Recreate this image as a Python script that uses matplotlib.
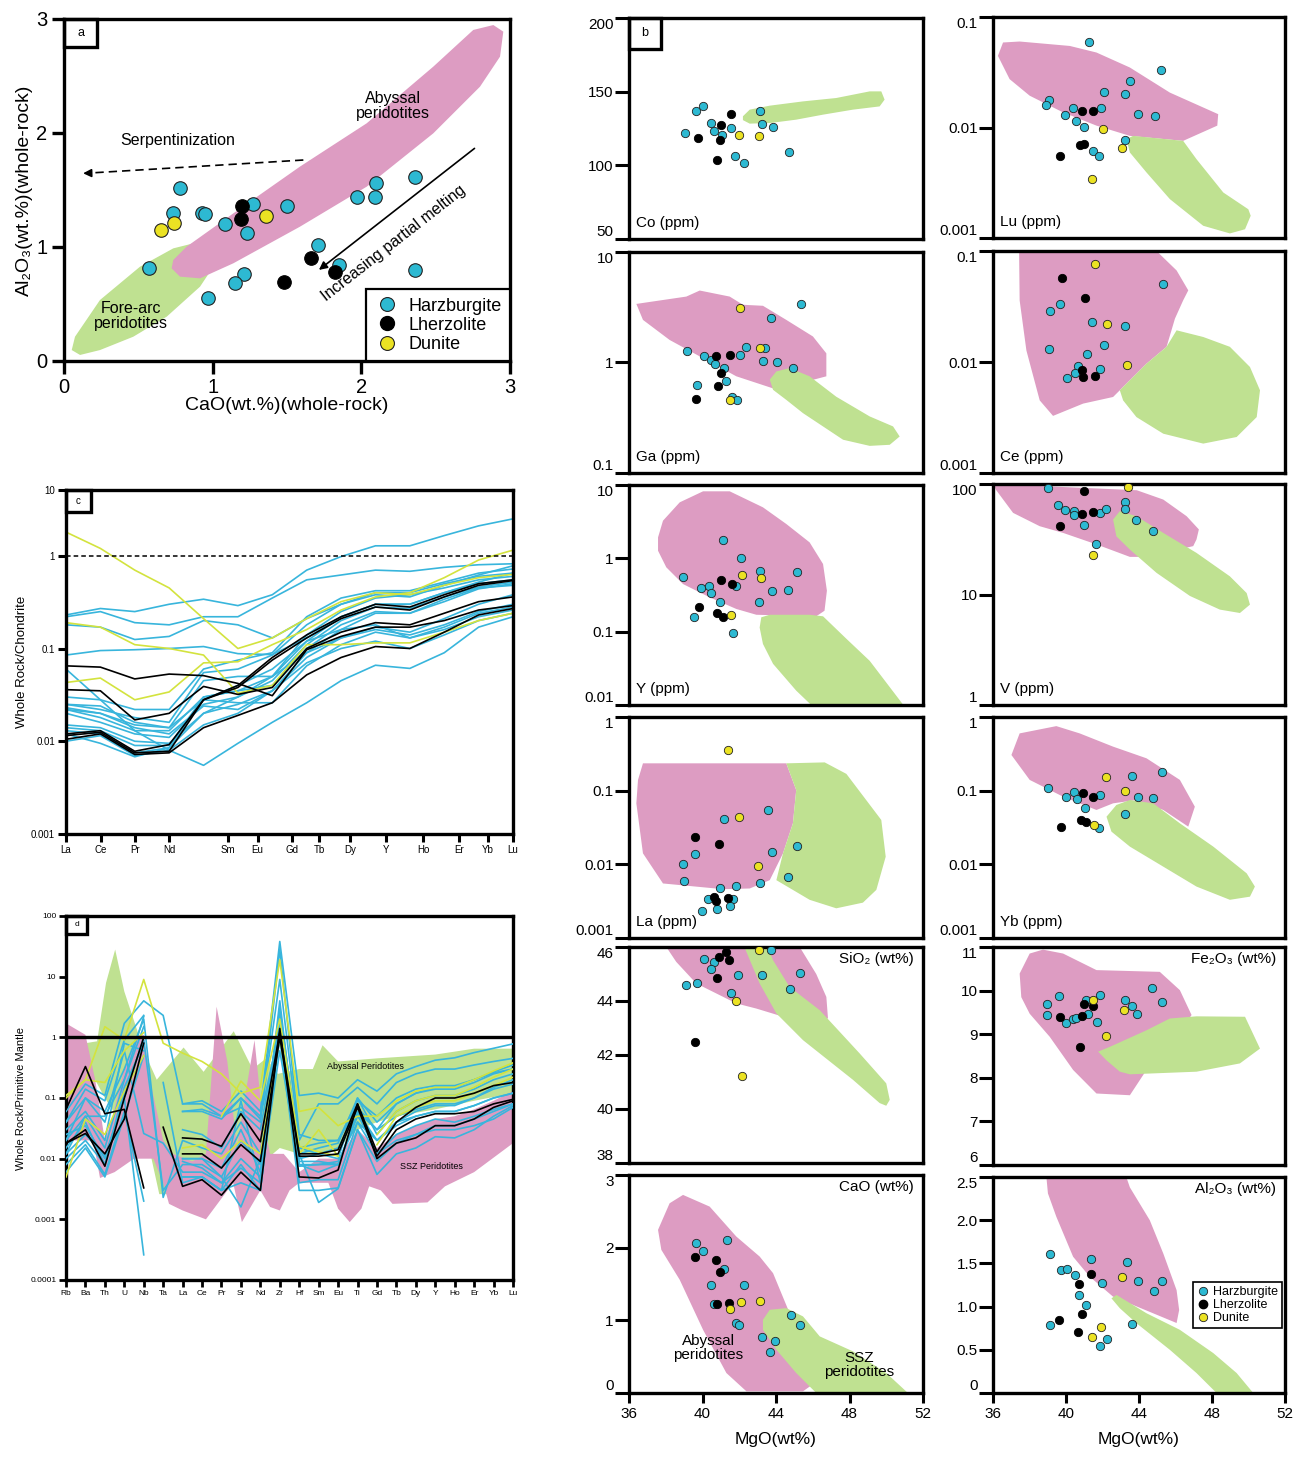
import numpy as np
import matplotlib
matplotlib.use('Agg')
import matplotlib.pyplot as plt
from matplotlib.patches import Polygon, Rectangle
from matplotlib.lines import Line2D
from matplotlib.ticker import NullLocator

plt.rcParams['font.family'] = ['Liberation Sans', 'DejaVu Sans']

W, H = 1296, 1463
PINK = '#dd9cc2'
GREEN = '#bfe191'
CYAN = '#2db9d2'
YEL = '#ebe223'
CYAN_L = '#38b5dc'
YEL_L = '#d3e33e'

# ---------------- (a) CaO vs Al2O3 ----------------
a_harz_cao = [0.78, 0.73, 0.93, 0.95, 1.08, 1.27, 1.23, 1.50, 1.97, 2.10, 2.09, 2.36, 1.71, 1.85, 2.36, 0.57, 1.21, 1.15, 0.97]
a_harz_al = [1.52, 1.30, 1.30, 1.29, 1.20, 1.38, 1.12, 1.36, 1.44, 1.56, 1.44, 1.61, 1.02, 0.84, 0.80, 0.82, 0.76, 0.68, 0.55]
a_lherz_cao = [1.20, 1.19, 1.66, 1.82, 1.48]
a_lherz_al = [1.36, 1.25, 0.90, 0.78, 0.69]
a_dun_cao = [0.65, 0.74, 1.36]
a_dun_al = [1.15, 1.21, 1.27]
a_abyssal = [(0.735, 0.886), (0.825, 1.003), (1.139, 1.295), (1.587, 1.705), (2.036, 2.085), (2.484, 2.582),
             (2.753, 2.904), (2.888, 2.947), (2.955, 2.889), (2.933, 2.670), (2.798, 2.406), (2.484, 1.997),
             (2.036, 1.529), (1.587, 1.178), (1.139, 0.857), (0.915, 0.725), (0.780, 0.740), (0.724, 0.813)]
a_forearc = [(0.052, 0.096), (0.074, 0.213), (0.242, 0.535), (0.511, 0.827), (0.735, 0.988), (0.870, 1.032),
             (1.004, 0.827), (0.915, 0.652), (0.691, 0.389), (0.466, 0.213), (0.242, 0.096), (0.108, 0.053)]

# ---------------- (c) REE / chondrite ----------------
ree_names = ['La', 'Ce', 'Pr', 'Nd', 'Sm', 'Eu', 'Gd', 'Tb', 'Dy', 'Y', 'Ho', 'Er', 'Yb', 'Lu']
ree_tick_pos = [0, 1.01, 2.01, 3.01, 4.71, 5.57, 6.56, 7.37, 8.27, 9.31, 10.39, 11.43, 12.27, 13.0]
ree_harz = [
    [0.23, 0.27, 0.25, 0.30, 0.34, 0.29, 0.38, 0.70, 0.98, 1.28, 1.28, 1.65, 2.1, 2.5],
    [0.22, 0.25, 0.19, 0.18, 0.22, 0.22, 0.35, 0.55, 0.62, 0.70, 0.68, 0.75, 0.80, 0.82],
    [0.18, 0.17, 0.125, 0.135, 0.20, 0.18, 0.13, 0.21, 0.30, 0.38, 0.36, 0.48, 0.62, 0.78],
    [0.085, 0.095, 0.097, 0.10, 0.105, 0.088, 0.086, 0.13, 0.22, 0.30, 0.30, 0.40, 0.52, 0.65],
    [0.06, 0.028, 0.013, 0.008, 0.0055, 0.0095, 0.016, 0.026, 0.045, 0.066, 0.061, 0.09, 0.17, 0.22],
    [0.03, 0.028, 0.022, 0.022, 0.06, 0.075, 0.09, 0.22, 0.35, 0.42, 0.42, 0.52, 0.65, 0.72],
    [0.025, 0.022, 0.018, 0.016, 0.055, 0.06, 0.085, 0.18, 0.30, 0.40, 0.40, 0.50, 0.60, 0.65],
    [0.023, 0.020, 0.015, 0.014, 0.045, 0.05, 0.05, 0.14, 0.25, 0.35, 0.38, 0.45, 0.55, 0.60],
    [0.022, 0.018, 0.013, 0.013, 0.030, 0.035, 0.05, 0.12, 0.22, 0.30, 0.30, 0.40, 0.50, 0.55],
    [0.020, 0.016, 0.012, 0.011, 0.025, 0.030, 0.045, 0.11, 0.20, 0.28, 0.27, 0.36, 0.46, 0.52],
    [0.015, 0.014, 0.010, 0.0095, 0.020, 0.025, 0.035, 0.09, 0.16, 0.24, 0.24, 0.32, 0.44, 0.50],
    [0.014, 0.013, 0.009, 0.009, 0.030, 0.035, 0.04, 0.10, 0.18, 0.25, 0.24, 0.34, 0.45, 0.48],
    [0.010, 0.0115, 0.007, 0.008, 0.015, 0.020, 0.035, 0.08, 0.13, 0.17, 0.15, 0.21, 0.30, 0.38],
    [0.012, 0.0095, 0.0068, 0.0085, 0.020, 0.030, 0.05, 0.09, 0.13, 0.16, 0.14, 0.18, 0.25, 0.30],
    [0.025, 0.024, 0.016, 0.014, 0.028, 0.026, 0.026, 0.065, 0.11, 0.15, 0.13, 0.16, 0.22, 0.26],
    [0.022, 0.020, 0.014, 0.012, 0.024, 0.022, 0.035, 0.07, 0.10, 0.12, 0.10, 0.14, 0.20, 0.24],
    [0.013, 0.012, 0.0075, 0.0085, 0.028, 0.040, 0.06, 0.12, 0.16, 0.18, 0.13, 0.17, 0.24, 0.28],
]
ree_lherz = [
    [0.065, 0.063, 0.047, 0.053, 0.051, 0.042, 0.031, 0.097, 0.135, 0.17, 0.17, 0.20, 0.26, 0.29],
    [0.036, 0.035, 0.017, 0.020, 0.039, 0.032, 0.038, 0.10, 0.15, 0.19, 0.18, 0.24, 0.32, 0.36],
    [0.012, 0.013, 0.0078, 0.0092, 0.028, 0.040, 0.08, 0.14, 0.22, 0.30, 0.28, 0.38, 0.50, 0.55],
    [0.0115, 0.0125, 0.0075, 0.0078, 0.028, 0.038, 0.075, 0.13, 0.21, 0.28, 0.26, 0.36, 0.48, 0.54],
    [0.0105, 0.012, 0.0072, 0.0075, 0.014, 0.019, 0.026, 0.052, 0.08, 0.105, 0.10, 0.15, 0.23, 0.27],
]
ree_dun = [
    [1.8, 1.2, 0.7, 0.45, 0.21, 0.10, 0.13, 0.21, 0.32, 0.40, 0.38, 0.48, 0.58, 0.63],
    [0.19, 0.17, 0.11, 0.10, 0.085, 0.033, 0.04, 0.11, 0.11, 0.115, 0.115, 0.15, 0.20, 0.24],
    [0.043, 0.048, 0.028, 0.034, 0.07, 0.072, 0.11, 0.16, 0.26, 0.36, 0.40, 0.58, 0.90, 1.15],
]

# ---------------- (d) trace elements / primitive mantle ----------------
pm_names = ['Rb', 'Ba', 'Th', 'U', 'Nb', 'Ta', 'La', 'Ce', 'Pr', 'Sr', 'Nd', 'Zr', 'Hf', 'Sm',
            'Eu', 'Ti', 'Gd', 'Tb', 'Dy', 'Y', 'Ho', 'Er', 'Yb', 'Lu']
nan = np.nan
pm_harz = [
    [0.06, 0.17, 0.11, 1.7, 4.0, 2.3, 0.08, 0.09, 0.06, 0.13, 0.06, 38, 0.11, 0.12, 0.10, 0.2, 0.13, 0.25, 0.33, 0.42, 0.46, 0.56, 0.66, 0.78],
    [0.04, 0.14, 0.09, 0.9, 2.3, nan, 0.06, 0.065, 0.05, 0.10, 0.045, 9.0, 0.02, 0.08, 0.08, 0.15, 0.08, 0.18, 0.25, 0.30, 0.30, 0.35, 0.40, 0.45],
    [0.02, 0.10, 0.06, 0.3, 2.0, 0.0023, 0.02, 0.015, 0.012, 0.04, 0.012, 3.0, 0.012, 0.015, 0.018, 0.10, 0.04, 0.08, 0.12, 0.14, 0.14, 0.18, 0.25, 0.30],
    [0.012, 0.025, 0.011, 0.10, 0.00026, nan, 0.005, 0.005, 0.003, 0.004, 0.003, 1.5, 0.008, 0.008, 0.009, 0.04, 0.012, 0.02, 0.025, 0.03, 0.03, 0.035, 0.045, 0.07],
    [0.008, 0.017, 0.0055, 0.06, 0.002, nan, 0.01, 0.01, 0.005, 0.0016, 0.01, 2.7, 0.012, 0.0019, 0.0032, 0.03, 0.0055, 0.012, 0.015, 0.023, 0.022, 0.03, 0.05, 0.075],
    [nan, nan, nan, nan, nan, 0.18, 0.004, 0.005, 0.003, 0.09, 0.004, 2.0, 0.015, 0.012, 0.015, 0.06, 0.02, 0.035, 0.05, 0.06, 0.06, 0.075, 0.10, 0.12],
    [0.03, 0.06, 0.02, 0.8, 0.6, nan, 0.06, 0.06, 0.045, 0.10, 0.05, 1.3, 0.015, 0.018, 0.02, 0.07, 0.03, 0.05, 0.065, 0.08, 0.08, 0.10, 0.14, 0.17],
    [0.02, 0.05, 0.015, 0.2, 1.5, nan, 0.03, 0.025, 0.015, 0.06, 0.03, 1.8, 0.009, 0.009, 0.008, 0.05, 0.02, 0.04, 0.05, 0.06, 0.06, 0.075, 0.10, 0.12],
    [0.015, 0.04, 0.008, 0.12, 0.9, 0.003, 0.008, 0.008, 0.005, 0.02, 0.008, 0.9, 0.01, 0.012, 0.01, 0.10, 0.025, 0.06, 0.09, 0.11, 0.11, 0.14, 0.20, 0.25],
    [0.006, 0.015, 0.005, 0.05, 0.5, nan, 0.009, 0.007, 0.004, 0.01, 0.005, 1.5, 0.004, 0.0045, 0.0045, 0.04, 0.02, 0.04, 0.06, 0.075, 0.075, 0.10, 0.15, 0.20],
    [0.04, 0.10, 0.04, 0.6, 0.026, 0.018, 0.006, 0.006, 0.004, 0.007, 0.004, 0.6, 0.0075, 0.008, 0.008, 0.055, 0.012, 0.025, 0.035, 0.045, 0.04, 0.05, 0.065, 0.08],
    [0.012, 0.05, 0.05, 0.2, 2.2, nan, 0.08, 0.08, 0.05, 0.07, 0.04, 28, 0.025, 0.02, 0.02, 0.09, 0.05, 0.10, 0.14, 0.16, 0.16, 0.20, 0.26, 0.30],
    [0.025, 0.035, 0.01, 0.10, 1.0, nan, 0.01, 0.01, 0.007, 0.03, 0.006, 4.0, 0.008, 0.006, 0.008, 0.06, 0.03, 0.08, 0.12, 0.15, 0.15, 0.20, 0.27, 0.35],
    [0.01, 0.02, 0.008, 0.15, 0.8, nan, 0.005, 0.005, 0.003, 0.008, 0.003, 1.1, 0.003, 0.003, 0.0033, 0.03, 0.009, 0.018, 0.025, 0.035, 0.035, 0.045, 0.06, 0.08],
]
pm_lherz = [
    [0.065, 0.33, 0.055, 0.065, 0.0033, nan, nan, nan, nan, nan, nan, nan, nan, nan, nan, nan, nan, nan, nan, nan, nan, nan, nan, nan],
    [0.018, 0.03, 0.0075, 0.10, 1.0, nan, nan, nan, nan, nan, nan, nan, nan, nan, nan, nan, nan, nan, nan, nan, nan, nan, nan, nan],
    [nan, nan, nan, nan, nan, 0.033, 0.0035, 0.0045, 0.0025, 0.006, 0.003, 1.4, 0.005, 0.0048, 0.0065, 0.08, 0.01, 0.018, 0.022, 0.035, 0.035, 0.045, 0.07, 0.09],
    [nan, nan, nan, nan, nan, nan, 0.022, 0.021, 0.016, 0.055, 0.019, 1.2, 0.012, 0.012, 0.014, 0.08, 0.013, 0.04, 0.07, 0.10, 0.10, 0.12, 0.16, 0.18],
    [0.018, 0.026, 0.012, 0.045, 0.8, nan, 0.012, 0.012, 0.007, 0.017, 0.009, 1.0, 0.011, 0.011, 0.012, 0.07, 0.011, 0.03, 0.045, 0.055, 0.055, 0.06, 0.08, 0.095],
]
pm_dun = [
    [0.10, 0.20, 1.5, 0.9, 9.0, 0.8, 0.55, 0.4, 0.25, 0.12, 0.15, 19, 0.06, 0.07, 0.035, 0.05, 0.05, 0.09, 0.13, 0.15, 0.15, 0.20, 0.28, 0.38],
    [0.005, 0.045, 0.025, 0.13, 0.5, nan, 0.015, 0.017, 0.01, 0.02, 0.012, 1.0, 0.012, 0.03, 0.011, nan, 0.017, 0.05, 0.07, 0.09, 0.09, 0.12, 0.16, 0.22],
    [0.11, 0.20, 0.18, 0.6, 1.2, nan, nan, nan, 0.05, 0.19, 0.09, 2.0, 0.016, 0.013, 0.011, nan, 0.025, 0.06, 0.09, 0.11, 0.11, 0.15, 0.22, 0.30],
]
pm_abyssal = [(1.0, 0.8), (1.6, 0.86), (2.06, 7.9), (2.53, 28), (3.0, 5.7), (3.6, 1.5), (4.0, 0.6), (4.67, 0.2),
              (6.05, 0.68), (7.08, 0.27), (8.63, 1.26), (9.6, 0.3), (10.3, 0.45), (10.9, 0.25), (12.0, 0.3),
              (12.7, 0.3), (13.2, 0.74), (14.0, 0.4), (16.0, 0.45), (19.0, 0.52), (21.0, 0.65), (23.0, 0.65),
              (23.0, 0.12), (21.0, 0.09), (19.0, 0.065), (17.0, 0.05), (16.0, 0.04), (15.0, 0.03), (14.0, 0.015),
              (13.0, 0.012), (12.0, 0.012), (11.0, 0.015), (10.0, 0.008), (9.0, 0.007), (8.0, 0.007), (7.0, 0.008),
              (6.3, 0.007), (5.6, 0.0026), (4.8, 0.0026), (4.4, 0.01), (4.0, 0.05), (3.3, 0.1), (2.6, 0.05),
              (2.0, 0.1), (1.5, 0.2), (1.0, 0.3)]
pm_ssz = [(0, 1.7), (1.0, 1.1), (1.5, 0.2), (2.0, 0.02), (2.4, 0.05), (3.0, 0.3), (3.6, 1.0), (4.0, 1.1),
          (4.4, 0.15), (5.0, 0.02), (5.5, 0.012), (6.5, 0.009), (7.2, 0.012), (7.75, 3.2), (8.3, 0.4),
          (8.8, 0.015), (9.2, 0.1), (9.7, 0.9), (10.1, 0.05), (10.5, 0.012), (11.2, 0.012), (12.0, 0.006),
          (13.0, 0.01), (14.0, 0.01), (15.0, 0.03), (16.0, 0.015), (17.0, 0.025), (18.0, 0.035), (19.0, 0.045),
          (20.0, 0.05), (21.0, 0.065), (22.0, 0.09), (23.0, 0.13),
          (23.0, 0.018), (21.0, 0.006), (19.5, 0.0035), (18.6, 0.0019), (16.8, 0.0018), (16.2, 0.003),
          (15.6, 0.0035), (15.2, 0.0015), (14.6, 0.0009), (14.0, 0.0015), (13.5, 0.004), (12.0, 0.004),
          (11.5, 0.003), (11.0, 0.0014), (10.5, 0.0016), (10.0, 0.003), (9.05, 0.0009), (8.6, 0.004),
          (7.2, 0.001), (6.0, 0.0014), (5.3, 0.0018), (5.0, 0.004), (4.5, 0.01), (3.5, 0.01), (2.5, 0.006),
          (1.75, 0.0048), (1.4, 0.02), (0, 0.02)]

# ---------------- (b) MgO variation diagrams ----------------
co_harz = ([39.03, 39.63, 40.03, 40.48, 40.61, 41.08, 41.57, 43.15, 43.24, 43.84, 44.71, 41.75, 42.26],
           [122.0, 136.7, 140.5, 128.7, 123.1, 120.4, 125.3, 136.7, 128.3, 126.0, 108.8, 106.1, 101.8])
co_lherz = ([39.74, 41.02, 40.93, 41.57, 40.79], [118.6, 127.1, 117.4, 134.8, 103.6])
co_dun = ([41.99, 43.07], [120.8, 120.1])
co_ssz = [(42.2, 133.3), (42.57, 137.8), (43.66, 140.5), (45.47, 143.4), (47.28, 145.7), (49.1, 150.2),
          (49.73, 150.2), (49.91, 144.6), (49.64, 140.0), (48.19, 137.8), (46.56, 134.4), (45.1, 131.0),
          (43.66, 128.7), (42.57, 128.3), (42.2, 130.7)]

ga_harz = ([39.16, 40.06, 40.48, 40.70, 41.15, 41.28, 39.70, 41.61, 41.88, 42.06, 42.39, 43.29, 43.42, 44.05, 44.93, 43.73, 45.38],
           [1.28, 1.15, 1.06, 0.97, 0.90, 0.68, 0.62, 0.49, 0.46, 1.16, 1.37, 1.04, 1.34, 1.01, 0.90, 2.52, 3.39])
ga_lherz = ([39.66, 40.84, 40.99, 40.75, 41.50], [0.47, 0.61, 0.80, 1.15, 1.17])
ga_dun = ([42.06, 43.11, 41.50], [3.10, 1.35, 0.46])
ga_abyssal = [(36.4, 3.39), (39.12, 3.95), (39.85, 4.48), (41.48, 3.95), (42.2, 3.33), (43.29, 3.26), (44.56, 2.43),
              (46.01, 1.72), (46.74, 1.21), (46.74, 0.75), (44.02, 0.57), (41.84, 0.75), (38.21, 1.60), (36.76, 2.43)]
ga_ssz = [(43.66, 0.70), (44.02, 0.83), (44.74, 0.89), (45.83, 0.75), (47.28, 0.49), (49.1, 0.325), (50.37, 0.264),
          (50.73, 0.214), (50.19, 0.180), (49.1, 0.176), (47.65, 0.200), (45.47, 0.348), (44.56, 0.459), (43.84, 0.566)]

y_harz = ([38.94, 39.90, 40.35, 40.48, 40.93, 39.52, 41.66, 41.12, 42.08, 41.81, 43.15, 43.07, 43.76, 44.63, 45.16],
          [0.55, 0.40, 0.42, 0.34, 0.25, 0.16, 0.096, 1.80, 1.01, 0.42, 0.665, 0.25, 0.355, 0.374, 0.644])
y_lherz = ([40.99, 41.61, 39.79, 40.81, 41.12], [0.50, 0.44, 0.22, 0.18, 0.16])
y_dun = ([42.13, 43.20, 41.55], [0.59, 0.54, 0.17])
y_abyssal = [(37.58, 1.93), (37.85, 3.26), (38.76, 5.8), (40.03, 8.2), (41.48, 8.2), (43.29, 4.96), (44.56, 2.94),
             (45.83, 1.65), (46.56, 0.837), (46.77, 0.362), (46.64, 0.193), (46.19, 0.162), (42.93, 0.170),
             (41.84, 0.204), (40.39, 0.294), (38.94, 0.446), (38.03, 0.754), (37.58, 1.27)]
y_ssz = [(43.2, 0.157), (43.66, 0.170), (45.83, 0.170), (46.56, 0.162), (47.83, 0.080), (49.1, 0.040),
         (51.0, 0.0095), (46.01, 0.0095), (45.1, 0.0157), (43.84, 0.0364), (43.29, 0.068), (43.11, 0.114)]

la_harz = ([41.17, 43.56, 45.14, 43.78, 39.57, 38.94, 38.97, 40.97, 41.84, 43.11, 44.65, 40.30, 41.66, 39.97, 40.81, 41.48],
           [0.0412, 0.0541, 0.0179, 0.0146, 0.0137, 0.0100, 0.00594, 0.00482, 0.00508, 0.00552, 0.00683, 0.00339,
            0.00339, 0.00235, 0.00251, 0.00276])
la_lherz = ([39.57, 40.90, 40.61, 40.75, 41.39], [0.0237, 0.0187, 0.00364, 0.00315, 0.00353])
la_dun = ([41.39, 41.97, 43.04], [0.356, 0.0434, 0.00963])
la_abyssal = [(36.76, 0.235), (44.56, 0.235), (45.1, 0.102), (44.92, 0.036), (44.38, 0.0141), (43.66, 0.0061),
              (42.57, 0.0047), (41.12, 0.0046), (37.85, 0.0055), (36.76, 0.0141), (36.4, 0.0673), (36.49, 0.140)]
la_ssz = [(44.56, 0.235), (46.65, 0.242), (47.83, 0.169), (49.73, 0.040), (49.97, 0.0127), (49.46, 0.0045),
          (48.73, 0.00302), (47.28, 0.00253), (45.83, 0.0033), (44.02, 0.0061), (44.38, 0.0141), (44.92, 0.036),
          (45.1, 0.102)]

si_harz = ([40.06, 40.61, 40.48, 39.08, 39.68, 41.93, 41.57, 43.26, 43.71, 44.78, 45.29],
           [45.57, 45.45, 45.20, 44.61, 44.67, 44.98, 44.30, 44.98, 45.88, 44.46, 45.02])
si_lherz = ([41.26, 40.90, 41.42, 40.81, 39.57], [45.82, 45.63, 45.51, 44.86, 42.49])
si_dun = ([43.06, 41.84, 42.17], [45.88, 43.99, 41.24])
si_abyssal = [(38.03, 46.0), (38.57, 45.45), (39.66, 44.65), (41.84, 43.91), (42.93, 43.72), (44.38, 43.42),
              (46.83, 43.35), (46.74, 44.15), (46.19, 45.0), (45.29, 46.0)]
si_ssz = [(42.29, 45.98), (43.56, 45.98), (43.84, 45.51), (44.74, 44.52), (46.38, 43.66), (48.55, 42.06),
          (50.0, 40.95), (50.19, 40.34), (50.0, 40.12), (49.64, 40.22), (48.19, 41.08), (45.47, 42.55),
          (44.02, 43.54), (43.11, 44.65)]

ca_harz = ([39.66, 40.05, 41.33, 41.15, 40.48, 42.26, 40.61, 41.80, 41.99, 43.26, 43.96, 43.69, 44.80, 45.32],
           [2.07, 1.96, 2.10, 1.70, 1.49, 1.49, 1.22, 0.97, 0.94, 0.77, 0.71, 0.56, 1.07, 0.93])
ca_lherz = ([39.61, 40.72, 40.93, 40.81, 41.44], [1.87, 1.83, 1.66, 1.22, 1.24])
ca_dun = ([41.51, 42.08, 43.15], [1.15, 1.25, 1.26])
ca_abyssal = [(37.58, 2.245), (38.21, 2.611), (38.94, 2.726), (40.39, 2.565), (41.84, 2.153), (43.11, 1.878),
              (43.84, 1.649), (44.74, 1.099), (45.47, 0.733), (46.01, 0.366), (46.1, 0.137), (45.47, 0.023),
              (42.39, 0.023), (41.3, 0.275), (40.03, 0.870), (38.76, 1.558), (37.76, 1.970)]
ca_ssz = [(43.29, 1.008), (43.66, 1.145), (44.56, 1.168), (45.47, 1.054), (46.38, 0.779), (48.19, 0.573),
          (50.0, 0.275), (51.18, 0.0), (46.19, 0.0), (45.1, 0.275), (44.02, 0.596), (43.29, 0.870)]

lu_harz = ([41.28, 45.20, 43.53, 42.07, 43.26, 39.07, 38.89, 40.39, 41.91, 39.93, 43.92, 44.85, 40.53, 41.01, 43.26, 41.49, 41.80],
           [0.0596, 0.0330, 0.0264, 0.0210, 0.0200, 0.0177, 0.0160, 0.0149, 0.0149, 0.0130, 0.0133, 0.0128,
            0.0115, 0.0102, 0.00768, 0.00610, 0.00554])
lu_lherz = ([40.88, 41.49, 40.75, 41.01, 39.69], [0.0140, 0.0140, 0.00692, 0.00702, 0.00554])
lu_dun = ([42.03, 43.09, 41.41], [0.00966, 0.00650, 0.00340])
lu_abyssal = [(36.27, 0.0445), (36.55, 0.0588), (37.46, 0.060), (40.21, 0.0547), (41.67, 0.0477), (43.5, 0.0349),
              (45.69, 0.0207), (48.34, 0.0132), (48.29, 0.0104), (46.42, 0.00757), (43.5, 0.00840),
              (41.67, 0.0104), (39.84, 0.0137), (38.01, 0.0194), (36.91, 0.0274)]
lu_ssz = [(43.31, 0.00784), (43.68, 0.0084), (46.42, 0.00757), (47.15, 0.00517), (48.62, 0.00258), (49.99, 0.00182),
          (50.12, 0.00159), (49.81, 0.00120), (48.98, 0.00110), (47.52, 0.00129), (45.69, 0.00225),
          (44.41, 0.00392), (43.5, 0.00594)]

ce_harz = ([45.34, 39.69, 39.14, 41.45, 43.24, 42.07, 39.07, 41.16, 40.66, 41.89, 40.50, 40.04],
           [0.0508, 0.0331, 0.0288, 0.0228, 0.0211, 0.0142, 0.0131, 0.0117, 0.00927, 0.00865, 0.00796, 0.00718])
ce_lherz = ([39.76, 41.06, 40.86, 40.95, 41.58], [0.0571, 0.0377, 0.00841, 0.00732, 0.00748])
ce_dun = ([41.61, 42.25, 43.33], [0.0769, 0.0221, 0.00940])
ce_abyssal = [(37.43, 0.1), (44.96, 0.1), (46.06, 0.0668), (46.70, 0.0442), (46.42, 0.0359), (45.97, 0.0246),
              (45.51, 0.0137), (44.41, 0.00966), (42.58, 0.00484), (40.94, 0.00422), (39.29, 0.00327),
              (38.56, 0.00451), (37.83, 0.0127), (37.46, 0.0359)]
ce_ssz = [(42.95, 0.00556), (44.41, 0.00966), (45.51, 0.0137), (46.06, 0.0193), (47.52, 0.0168), (48.98, 0.0137),
          (50.08, 0.00902), (50.63, 0.00556), (50.45, 0.00319), (49.35, 0.00211), (47.52, 0.00184),
          (45.33, 0.00226), (43.86, 0.00319), (43.13, 0.00451)]

v_harz = ([39.02, 39.57, 39.97, 40.45, 40.43, 40.98, 41.89, 42.17, 43.23, 43.23, 43.86, 44.74, 41.67],
          [92.3, 64.3, 57.9, 57.1, 52.8, 42.7, 54.9, 59.6, 68.9, 59.6, 47.7, 37.4, 28.7])
v_lherz = ([41.0, 40.86, 41.46, 39.66], [85.6, 53.6, 55.6, 42.1])
v_dun = ([43.39, 41.46], [94.4, 23.0])
v_abyssal = [(36.04, 100), (43.88, 87.8), (45.33, 72.3), (46.61, 51.1), (47.28, 38.8), (47.15, 31.5),
             (46.97, 27.4), (44.41, 21.9), (43.5, 21.9), (41.67, 28.4), (39.84, 36.1), (38.56, 41.5),
             (37.10, 54.8), (36.15, 89.1)]
v_ssz = [(42.58, 47.7), (42.95, 56.8), (43.86, 51.1), (45.33, 36.1), (47.15, 23.8), (48.98, 14.6), (49.9, 10.3),
         (50.08, 8.1), (49.53, 6.8), (48.43, 7.3), (46.79, 9.7), (44.96, 15.7), (43.5, 25.5), (42.76, 33.6)]

yb_harz = ([45.27, 43.61, 39.02, 40.42, 39.99, 40.62, 41.88, 43.92, 44.78, 41.03, 43.22, 41.81],
           [0.181, 0.158, 0.110, 0.0959, 0.0812, 0.0779, 0.0873, 0.0812, 0.0795, 0.0588, 0.0482, 0.0308])
yb_lherz = ([40.93, 41.50, 40.80, 41.07, 39.75], [0.092, 0.0812, 0.0400, 0.0380, 0.0325])
yb_dun = ([42.17, 43.26, 41.56], [0.152, 0.0990, 0.0338])
yb_abyssal = [(37.01, 0.305), (37.46, 0.599), (39.47, 0.752), (40.75, 0.599), (42.58, 0.396), (44.41, 0.275),
              (46.24, 0.140), (47.06, 0.0606), (46.70, 0.0325), (45.33, 0.0547), (43.86, 0.0747), (42.58, 0.0673),
              (41.67, 0.0547), (39.84, 0.0829), (38.01, 0.140)]
yb_ssz = [(42.22, 0.0443), (42.76, 0.0639), (43.5, 0.0747), (44.78, 0.0673), (46.24, 0.0360), (48.07, 0.0174),
          (49.9, 0.00755), (50.35, 0.00499), (50.08, 0.00364), (48.98, 0.00330), (47.15, 0.00499),
          (45.33, 0.00930), (43.5, 0.0174), (42.49, 0.0278)]

fe_harz = ([38.94, 39.60, 38.94, 40.02, 40.39, 40.53, 41.08, 41.22, 41.72, 41.89, 43.24, 43.63, 43.90, 44.72, 45.27],
           [9.69, 9.87, 9.44, 9.26, 9.34, 9.37, 9.78, 9.46, 9.28, 9.89, 9.79, 9.65, 9.46, 10.07, 9.74])
fe_lherz = ([39.66, 40.86, 40.96, 41.49, 40.75], [9.40, 9.42, 9.70, 9.64, 8.70])
fe_dun = ([41.50, 43.19, 42.20], [9.78, 9.55, 8.95])
fe_abyssal = [(38.01, 10.85), (38.74, 10.94), (39.84, 10.85), (41.67, 10.47), (45.14, 10.43), (46.24, 10.01),
              (46.88, 9.44), (46.42, 9.17), (45.33, 8.86), (44.41, 8.18), (43.5, 7.60), (41.67, 7.64),
              (40.39, 8.18), (39.11, 8.94), (38.01, 9.47), (37.55, 9.85), (37.46, 10.39)]
fe_ssz = [(41.76, 8.60), (42.4, 8.71), (44.41, 9.09), (45.69, 9.36), (47.15, 9.41), (49.81, 9.40), (50.63, 8.67),
          (49.53, 8.33), (47.15, 8.14), (43.5, 8.08), (42.95, 8.14), (42.22, 8.40)]

al_harz = ([39.11, 39.75, 40.06, 40.52, 40.70, 41.10, 39.11, 41.36, 41.97, 43.33, 43.92, 44.81, 45.27, 43.64, 42.22, 41.85],
           [1.61, 1.42, 1.44, 1.36, 1.13, 1.02, 0.79, 1.55, 1.27, 1.52, 1.30, 1.18, 1.30, 0.80, 0.62, 0.54])
al_lherz = ([40.72, 41.36, 40.86, 39.60, 40.64], [1.26, 1.38, 0.91, 0.84, 0.71])
al_dun = ([43.06, 41.91, 41.45], [1.34, 0.76, 0.65])
al_abyssal = [(38.93, 2.49), (43.32, 2.49), (43.5, 2.38), (44.59, 2.0), (45.33, 1.615), (46.06, 1.19), (46.2, 0.96),
              (46.06, 0.81), (42.58, 1.115), (41.30, 1.346), (40.39, 1.577), (39.47, 2.04), (39.01, 2.31)]
al_ssz = [(42.49, 1.096), (42.77, 1.135), (44.41, 0.923), (46.24, 0.731), (48.07, 0.462), (49.35, 0.231),
          (50.26, 0.0), (48.25, 0.0), (47.15, 0.231), (45.69, 0.5), (43.86, 0.808), (42.95, 0.981)]


def box(l, t, r, b):
    return [l / W, 1 - b / H, (r - l) / W, (b - t) / H]


def heavy_frame(ax, lw=2.4):
    for s in ax.spines.values():
        s.set_linewidth(lw)


def tag(ax, letter, w, h, fs):
    ax.add_patch(Rectangle((0, 1 - h), w, h, transform=ax.transAxes, fill=False, lw=2.4,
                           edgecolor='k', zorder=10, clip_on=False))
    ax.text(w / 2, 1 - h / 2, letter, transform=ax.transAxes, ha='center', va='center', fontsize=fs, zorder=10)


def log_ticks(ax, ticks, labels):
    ax.set_yticks(ticks)
    ax.set_yticklabels(labels)
    ax.yaxis.set_minor_locator(NullLocator())


fig = plt.figure(figsize=(W / 100, H / 100), dpi=100)

# ---------- panel a ----------
ax = fig.add_axes(box(64, 19, 510, 361))
ax.add_patch(Polygon(a_forearc, closed=True, facecolor=GREEN, edgecolor='none', zorder=1))
ax.add_patch(Polygon(a_abyssal, closed=True, facecolor=PINK, edgecolor='none', zorder=2))
ax.scatter(a_harz_cao, a_harz_al, s=95, c=CYAN, edgecolors='#222222', linewidths=0.8, zorder=4)
ax.scatter(a_lherz_cao, a_lherz_al, s=95, c='k', edgecolors='k', linewidths=0.8, zorder=4)
ax.scatter(a_dun_cao, a_dun_al, s=95, c=YEL, edgecolors='#222222', linewidths=0.8, zorder=4)
ax.plot([1.61, 0.16], [1.763, 1.648], ls=(0, (5, 3)), color='k', lw=1.2, zorder=3)
ax.annotate('', xy=(0.11, 1.646), xytext=(0.2, 1.649),
            arrowprops=dict(arrowstyle='-|>', color='k', lw=1.2, mutation_scale=12), zorder=3)
ax.annotate('', xy=(1.70, 0.784), xytext=(2.776, 1.880),
            arrowprops=dict(arrowstyle='-|>', color='k', lw=1.2, mutation_scale=12), zorder=3)
ax.text(0.765, 1.933, 'Serpentinization', ha='center', va='center', fontsize=11.5)
ax.text(2.215, 2.237, 'Abyssal\nperidotites', ha='center', va='center', fontsize=11.5, linespacing=1.0)
ax.text(0.448, 0.395, 'Fore-arc\nperidotites', ha='center', va='center', fontsize=11.5, linespacing=1.0)
ax.text(2.215, 1.032, 'Increasing partial melting', ha='center', va='center', fontsize=11.5,
        rotation=38, rotation_mode='anchor')
ax.set_xlim(0, 3)
ax.set_ylim(0, 3)
ax.set_xticks([0, 1, 2, 3])
ax.set_yticks([0, 1, 2, 3])
ax.tick_params(direction='out', length=9, width=2.4, labelsize=14.5, pad=3)
ax.set_xlabel('CaO(wt.%)(whole-rock)', fontsize=14, labelpad=0)
ax.set_ylabel('Al₂O₃(wt.%)(whole-rock)', fontsize=14, labelpad=2)
heavy_frame(ax)
tag(ax, 'a', 0.074, 0.082, 9)
handles = [Line2D([], [], ls='none', marker='o', ms=10, mfc=CYAN, mec='#222222', mew=0.8),
           Line2D([], [], ls='none', marker='o', ms=10, mfc='k', mec='k'),
           Line2D([], [], ls='none', marker='o', ms=10, mfc=YEL, mec='#222222', mew=0.8)]
leg = ax.legend(handles, ['Harzburgite', 'Lherzolite', 'Dunite'], loc='lower right', bbox_to_anchor=(1, 0),
                borderaxespad=0, fontsize=13, fancybox=False, framealpha=1, edgecolor='k',
                handletextpad=0.5, labelspacing=0.12, borderpad=0.45, handlelength=1.4)
leg.get_frame().set_linewidth(1.6)

# ---------- panel c ----------
ax = fig.add_axes(box(66, 490, 513, 834))
C_TOP = 10 ** 0.709
x_ree = np.arange(len(ree_names))
for row in ree_harz:
    ax.plot(x_ree, row, color=CYAN_L, lw=1.2)
for row in ree_dun:
    ax.plot(x_ree, row, color=YEL_L, lw=1.2)
for row in ree_lherz:
    ax.plot(x_ree, row, color='k', lw=1.2)
ax.axhline(1, color='k', ls=(0, (3, 2)), lw=1.1)
ax.set_yscale('log')
ax.set_xlim(0, 13)
ax.set_ylim(0.001, C_TOP)
log_ticks(ax, [0.001, 0.01, 0.1, 1, C_TOP], ['0.001', '0.01', '0.1', '1', '10'])
ax.set_xticks(ree_tick_pos)
ax.set_xticklabels(ree_names)
ax.tick_params(direction='out', length=6, width=2.2, labelsize=7, pad=2)
ax.set_ylabel('Whole Rock/Chondrite', fontsize=9.5, labelpad=2)
heavy_frame(ax)
tag(ax, 'c', 0.056, 0.064, 7)

# ---------- panel d ----------
ax = fig.add_axes(box(66, 916, 513, 1280))
x_pm = np.arange(len(pm_names))
ax.add_patch(Polygon(pm_abyssal, closed=True, facecolor=GREEN, edgecolor='none', zorder=1))
ax.add_patch(Polygon(pm_ssz, closed=True, facecolor=PINK, edgecolor='none', zorder=1.5))
for row in pm_harz:
    ax.plot(x_pm, row, color=CYAN_L, lw=1.2, zorder=3)
for row in pm_dun:
    ax.plot(x_pm, row, color=YEL_L, lw=1.2, zorder=3)
for row in pm_lherz:
    ax.plot(x_pm, row, color='k', lw=1.2, zorder=3)
ax.axhline(1, color='k', lw=2.4, zorder=4)
ax.text(15.4, 0.33, 'Abyssal Peridotites', fontsize=6.5, ha='center', va='center', zorder=5)
ax.text(18.8, 0.0075, 'SSZ Peridotites', fontsize=6.5, ha='center', va='center', zorder=5)
ax.set_yscale('log')
ax.set_xlim(0, 23)
ax.set_ylim(0.0001, 100)
log_ticks(ax, [0.0001, 0.001, 0.01, 0.1, 1, 10, 100], ['0.0001', '0.001', '0.01', '0.1', '1', '10', '100'])
ax.set_xticks(x_pm)
ax.set_xticklabels(pm_names)
ax.tick_params(direction='out', length=5, width=2.0, labelsize=6, pad=2)
ax.set_ylabel('Whole Rock/Primitive Mantle', fontsize=8, labelpad=3)
heavy_frame(ax)
tag(ax, 'd', 0.047, 0.049, 6)


# ---------- panel b ----------
def b_panel(rect, ylim, ticks, labels, log, harz, lherz, dun, abyssal, ssz, name, name_right, xaxis=False):
    ax = fig.add_axes(rect)
    if abyssal is not None:
        ax.add_patch(Polygon(abyssal, closed=True, facecolor=PINK, edgecolor='none', zorder=1))
    if ssz is not None:
        ax.add_patch(Polygon(ssz, closed=True, facecolor=GREEN, edgecolor='none', zorder=1.5))
    ax.scatter(*harz, s=36, c=CYAN, edgecolors='#222222', linewidths=0.6, zorder=4)
    ax.scatter(*lherz, s=36, c='k', edgecolors='k', linewidths=0.6, zorder=4)
    ax.scatter(*dun, s=36, c=YEL, edgecolors='#222222', linewidths=0.6, zorder=4)
    if log:
        ax.set_yscale('log')
    ax.set_xlim(36, 52)
    ax.set_ylim(*ylim)
    log_ticks(ax, ticks, labels)
    ax.tick_params(axis='y', direction='out', length=10, width=2.2, labelsize=11, pad=1)
    # end labels sit just inside the frame so stacked panels do not collide
    tl = ax.get_yticklabels()
    tl[0].set_verticalalignment('bottom')
    tl[-1].set_verticalalignment('top')
    if xaxis:
        ax.set_xticks([36, 40, 44, 48, 52])
        ax.tick_params(axis='x', direction='out', length=7, width=2.2, labelsize=11, pad=3)
        ax.set_xlabel('MgO(wt%)', fontsize=12.5, labelpad=8)
    else:
        ax.set_xticks([])
    if name_right:
        ax.text(0.97, 0.975, name, transform=ax.transAxes, ha='right', va='top', fontsize=11, zorder=6)
    else:
        ax.text(0.025, 0.04, name, transform=ax.transAxes, ha='left', va='bottom', fontsize=11, zorder=6)
    heavy_frame(ax)
    return ax


L1, R1 = 629, 923
L2, R2 = 993, 1285
ax_co = b_panel(box(L1, 18, R1, 239), (50, 200), [50, 100, 150, 200], ['50', '100', '150', '200'], False,
                co_harz, co_lherz, co_dun, None, co_ssz, 'Co (ppm)', False)
tag(ax_co, 'b', 0.109, 0.14, 9)
b_panel(box(L1, 252, R1, 473), (0.1, 10), [0.1, 1, 10], ['0.1', '1', '10'], True,
        ga_harz, ga_lherz, ga_dun, ga_abyssal, ga_ssz, 'Ga (ppm)', False)
b_panel(box(L1, 485, R1, 705), (0.01, 10), [0.01, 0.1, 1, 10], ['0.01', '0.1', '1', '10'], True,
        y_harz, y_lherz, y_dun, y_abyssal, y_ssz, 'Y (ppm)', False)
b_panel(box(L1, 717, R1, 938), (0.001, 1), [0.001, 0.01, 0.1, 1], ['0.001', '0.01', '0.1', '1'], True,
        la_harz, la_lherz, la_dun, la_abyssal, la_ssz, 'La (ppm)', False)
b_panel(box(L1, 947, R1, 1163), (38, 46), [38, 40, 42, 44, 46], ['38', '40', '42', '44', '46'], False,
        si_harz, si_lherz, si_dun, si_abyssal, si_ssz, 'SiO₂ (wt%)', True)
ax_ca = b_panel(box(L1, 1175, R1, 1393), (0, 3), [0, 1, 2, 3], ['0', '1', '2', '3'], False,
                ca_harz, ca_lherz, ca_dun, ca_abyssal, ca_ssz, 'CaO (wt%)', True, xaxis=True)
ax_ca.text(40.3, 0.62, 'Abyssal\nperidotites', ha='center', va='center', fontsize=11, linespacing=1.0, zorder=6)
ax_ca.text(48.55, 0.38, 'SSZ\nperidotites', ha='center', va='center', fontsize=11, linespacing=1.0, zorder=6)

b_panel(box(L2, 17, R2, 238), (0.001, 0.1), [0.001, 0.01, 0.1], ['0.001', '0.01', '0.1'], True,
        lu_harz, lu_lherz, lu_dun, lu_abyssal, lu_ssz, 'Lu (ppm)', False)
b_panel(box(L2, 251, R2, 473), (0.001, 0.1), [0.001, 0.01, 0.1], ['0.001', '0.01', '0.1'], True,
        ce_harz, ce_lherz, ce_dun, ce_abyssal, ce_ssz, 'Ce (ppm)', False)
b_panel(box(L2, 484, R2, 705), (1, 100), [1, 10, 100], ['1', '10', '100'], True,
        v_harz, v_lherz, v_dun, v_abyssal, v_ssz, 'V (ppm)', False)
b_panel(box(L2, 717, R2, 938), (0.001, 1), [0.001, 0.01, 0.1, 1], ['0.001', '0.01', '0.1', '1'], True,
        yb_harz, yb_lherz, yb_dun, yb_abyssal, yb_ssz, 'Yb (ppm)', False)
b_panel(box(L2, 947, R2, 1165), (6, 11), [6, 7, 8, 9, 10, 11], ['6', '7', '8', '9', '10', '11'], False,
        fe_harz, fe_lherz, fe_dun, fe_abyssal, fe_ssz, 'Fe₂O₃ (wt%)', True)
ax_al = b_panel(box(L2, 1177, R2, 1393), (0, 2.5), [0, 0.5, 1.0, 1.5, 2.0, 2.5],
                ['0', '0.5', '1.0', '1.5', '2.0', '2.5'], False,
                al_harz, al_lherz, al_dun, al_abyssal, al_ssz, 'Al₂O₃ (wt%)', True, xaxis=True)
handles = [Line2D([], [], ls='none', marker='o', ms=6, mfc=CYAN, mec='#222222', mew=0.6),
           Line2D([], [], ls='none', marker='o', ms=6, mfc='k', mec='k'),
           Line2D([], [], ls='none', marker='o', ms=6, mfc=YEL, mec='#222222', mew=0.6)]
leg = ax_al.legend(handles, ['Harzburgite', 'Lherzolite', 'Dunite'], loc='lower right',
                   bbox_to_anchor=(0.99, 0.30), borderaxespad=0, fontsize=9, fancybox=False, framealpha=1,
                   edgecolor='k', handletextpad=0.3, labelspacing=0.1, borderpad=0.3, handlelength=1.0)
leg.get_frame().set_linewidth(1.2)

fig.savefig('out.png', dpi=100)
